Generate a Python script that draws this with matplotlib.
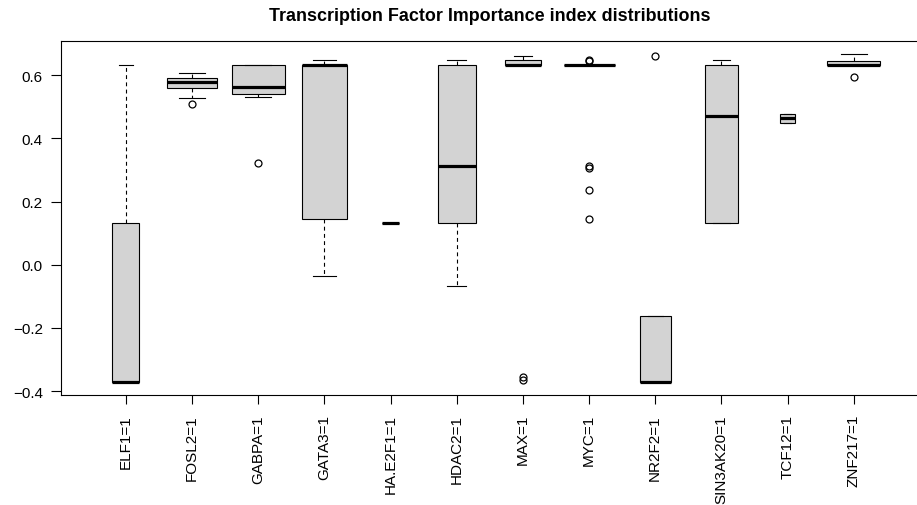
"""Boxplots of transcription factor importance index distributions."""
import matplotlib
matplotlib.use("Agg")
import matplotlib.pyplot as plt
import numpy as np

labels = ["ELF1=1", "FOSL2=1", "GABPA=1", "GATA3=1", "HA.E2F1=1", "HDAC2=1",
          "MAX=1", "MYC=1", "NR2F2=1", "SIN3AK20=1", "TCF12=1", "ZNF217=1"]
# five-number summaries
whislo = [-0.371, 0.528, 0.532, -0.037, 0.131, -0.067, 0.631, 0.633, -0.371, 0.131, 0.449, 0.632]
q1 = [-0.371, 0.559, 0.541, 0.146, 0.131, 0.131, 0.631, 0.633, -0.371, 0.131, 0.449, 0.632]
med = [-0.371, 0.580, 0.564, 0.633, 0.131, 0.313, 0.633, 0.633, -0.371, 0.472, 0.464, 0.632]
q3 = [0.131, 0.590, 0.633, 0.633, 0.131, 0.633, 0.647, 0.633, -0.161, 0.633, 0.476, 0.646]
whishi = [0.633, 0.606, 0.633, 0.647, 0.131, 0.647, 0.660, 0.633, -0.161, 0.647, 0.476, 0.667]
fliers = [[], [0.509], [0.323], [], [], [], [-0.357, -0.365],
          [0.645, 0.648, 0.314, 0.305, 0.237, 0.144], [0.660], [], [], [0.596]]
# group sizes (box width ~ sqrt(n), as with varwidth=TRUE)
counts = [7, 25, 27, 20, 3, 14, 12, 25, 9, 11, 2, 27]

plt.rcParams["font.family"] = ["Liberation Sans", "DejaVu Sans"]

stats = []
for i, lab in enumerate(labels):
    stats.append(dict(label=lab, whislo=whislo[i], q1=q1[i], med=med[i],
                      q3=q3[i], whishi=whishi[i], fliers=fliers[i]))

n = np.array(counts, dtype=float)
widths = 0.8 * np.sqrt(n / n.max())
pos = np.arange(1, len(labels) + 1)

fig = plt.figure(figsize=(9.17, 5.06), dpi=100)
ax = fig.add_axes([61 / 917, 110 / 506, (918.6 - 61) / 917, 354 / 506])

ax.bxp(stats, positions=pos, widths=widths, patch_artist=True,
       showfliers=True,
       boxprops=dict(facecolor="#d3d3d3", edgecolor="black", linewidth=0.8),
       medianprops=dict(color="black", linewidth=2.3, solid_capstyle="butt"),
       whiskerprops=dict(color="black", linewidth=0.8, linestyle=(0, (3.5, 3))),
       capprops=dict(color="black", linewidth=0.8),
       flierprops=dict(marker="o", markerfacecolor="none", markeredgecolor="black",
                       markersize=5, markeredgewidth=0.9))

ax.set_xlim(0.02, 12.98)
ax.set_ylim(-0.4125, 0.7085)
ax.set_yticks([-0.4, -0.2, 0.0, 0.2, 0.4, 0.6])
ax.set_yticklabels(["\u22120.4", "\u22120.2", "0.0", "0.2", "0.4", "0.6"])
ax.set_xticks(pos)
ax.set_xticklabels(labels, rotation=90)
ax.tick_params(axis="y", length=7.5, width=0.8, pad=5.5, labelsize=11)
ax.tick_params(axis="x", length=6.7, width=0.8, pad=7, labelsize=11)
for s in ax.spines.values():
    s.set_linewidth(0.8)

ax.set_title("Transcription Factor Importance index distributions",
             fontsize=12.9, fontweight="bold", pad=15)

fig.savefig("out.png", dpi=100)
